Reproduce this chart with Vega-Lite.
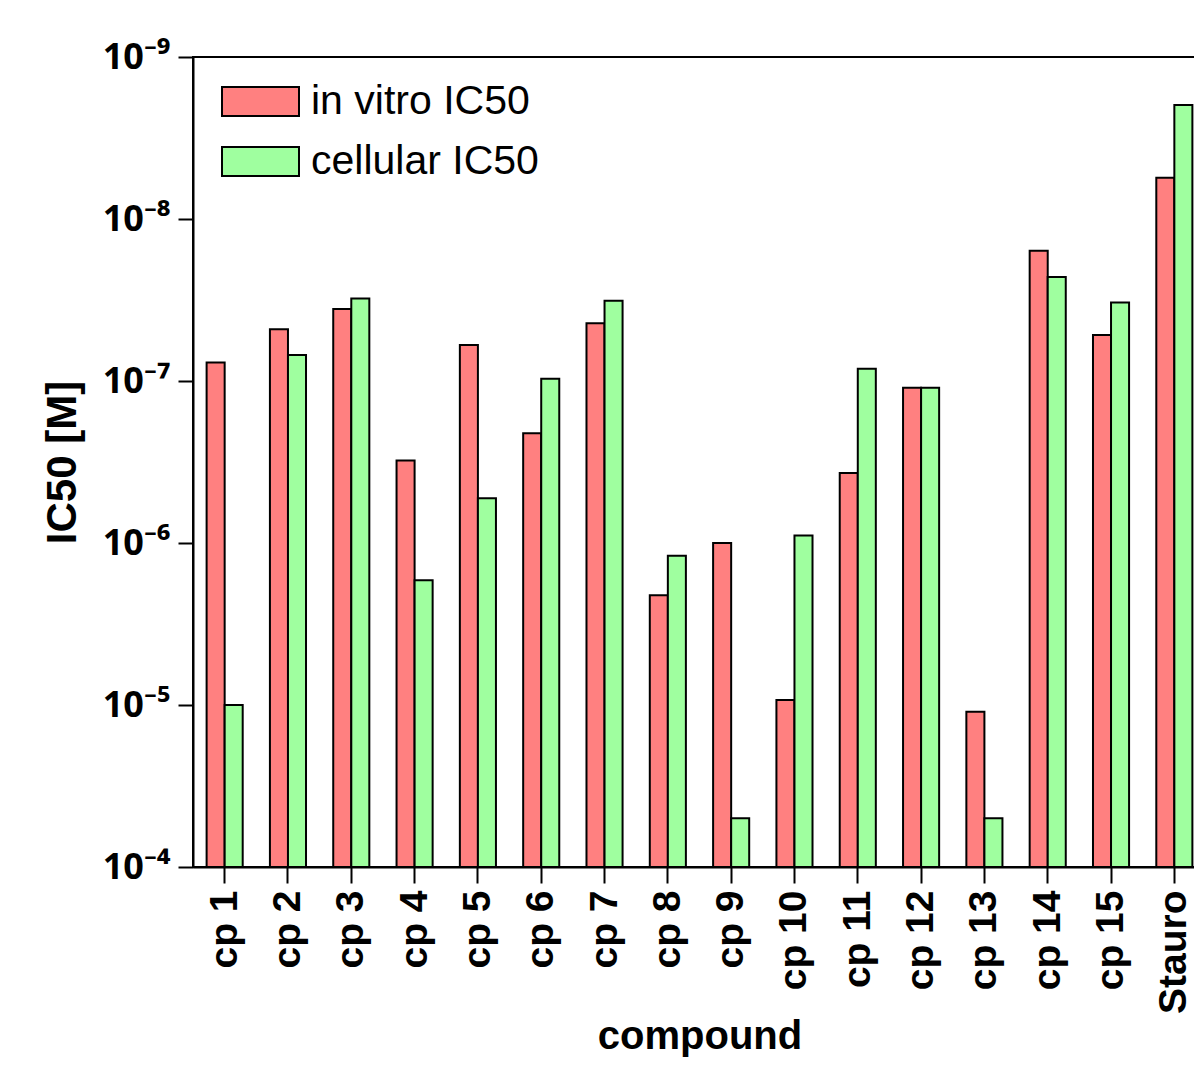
{
  "$schema": "https://vega.github.io/schema/vega-lite/v6.json",
  "width": 1002,
  "height": 810,
  "autosize": {"type": "none"},
  "padding": {"left": 193, "top": 57, "right": 0, "bottom": 198},
  "background": "white",
  "config": {
    "view": {"stroke": "black", "strokeWidth": 2},
    "font": "Liberation Sans"
  },
  "data": {
    "values": [
      {"compound": "cp 1", "series": "in vitro IC50", "ic50": 7.7e-8},
      {"compound": "cp 1", "series": "cellular IC50", "ic50": 1.0e-5},
      {"compound": "cp 2", "series": "in vitro IC50", "ic50": 4.8e-8},
      {"compound": "cp 2", "series": "cellular IC50", "ic50": 6.9e-8},
      {"compound": "cp 3", "series": "in vitro IC50", "ic50": 3.6e-8},
      {"compound": "cp 3", "series": "cellular IC50", "ic50": 3.1e-8},
      {"compound": "cp 4", "series": "in vitro IC50", "ic50": 3.1e-7},
      {"compound": "cp 4", "series": "cellular IC50", "ic50": 1.7e-6},
      {"compound": "cp 5", "series": "in vitro IC50", "ic50": 6.0e-8},
      {"compound": "cp 5", "series": "cellular IC50", "ic50": 5.3e-7},
      {"compound": "cp 6", "series": "in vitro IC50", "ic50": 2.1e-7},
      {"compound": "cp 6", "series": "cellular IC50", "ic50": 9.7e-8},
      {"compound": "cp 7", "series": "in vitro IC50", "ic50": 4.4e-8},
      {"compound": "cp 7", "series": "cellular IC50", "ic50": 3.2e-8},
      {"compound": "cp 8", "series": "in vitro IC50", "ic50": 2.1e-6},
      {"compound": "cp 8", "series": "cellular IC50", "ic50": 1.2e-6},
      {"compound": "cp 9", "series": "in vitro IC50", "ic50": 1.0e-6},
      {"compound": "cp 9", "series": "cellular IC50", "ic50": 5.0e-5},
      {"compound": "cp 10", "series": "in vitro IC50", "ic50": 9.3e-6},
      {"compound": "cp 10", "series": "cellular IC50", "ic50": 9.0e-7},
      {"compound": "cp 11", "series": "in vitro IC50", "ic50": 3.7e-7},
      {"compound": "cp 11", "series": "cellular IC50", "ic50": 8.4e-8},
      {"compound": "cp 12", "series": "in vitro IC50", "ic50": 1.1e-7},
      {"compound": "cp 12", "series": "cellular IC50", "ic50": 1.1e-7},
      {"compound": "cp 13", "series": "in vitro IC50", "ic50": 1.1e-5},
      {"compound": "cp 13", "series": "cellular IC50", "ic50": 5.0e-5},
      {"compound": "cp 14", "series": "in vitro IC50", "ic50": 1.57e-8},
      {"compound": "cp 14", "series": "cellular IC50", "ic50": 2.28e-8},
      {"compound": "cp 15", "series": "in vitro IC50", "ic50": 5.2e-8},
      {"compound": "cp 15", "series": "cellular IC50", "ic50": 3.28e-8},
      {"compound": "Stauro", "series": "in vitro IC50", "ic50": 5.57e-9},
      {"compound": "Stauro", "series": "cellular IC50", "ic50": 1.98e-9}
    ]
  },
  "mark": {"type": "bar", "stroke": "black", "strokeWidth": 2},
  "encoding": {
    "x": {
      "field": "compound",
      "type": "nominal",
      "sort": null,
      "scale": {"range": [0, 1013], "paddingInner": 0.43, "paddingOuter": 0.215},
      "axis": {
        "title": "compound",
        "titleFontSize": 40,
        "titleFontWeight": "bold",
        "titleColor": "black",
        "titlePadding": 3,
        "labelAngle": 270,
        "labelFontSize": 39,
        "labelFontWeight": "bold",
        "labelColor": "black",
        "labelPadding": 7,
        "tickSize": 16,
        "tickWidth": 2,
        "tickColor": "black",
        "domainColor": "black",
        "domainWidth": 2,
        "grid": false
      }
    },
    "xOffset": {"field": "series", "sort": ["in vitro IC50", "cellular IC50"]},
    "y": {
      "field": "ic50",
      "type": "quantitative",
      "scale": {"type": "log", "domain": [1e-9, 1e-4], "reverse": true},
      "axis": {
        "values": [1e-9, 1e-8, 1e-7, 1e-6, 1e-5, 1e-4],
        "labelExpr": "'10⁻' + ['⁰','¹','²','³','⁴','⁵','⁶','⁷','⁸','⁹'][-round(log(datum.value)/LN10)]",
        "labelFont": "Noto Sans",
        "labelFontSize": 36,
        "labelFontWeight": "bold",
        "labelColor": "black",
        "labelPadding": 8,
        "tickSize": 15,
        "tickWidth": 2,
        "tickColor": "black",
        "domainColor": "black",
        "domainWidth": 2,
        "grid": false,
        "title": "IC50 [M]",
        "titleFontSize": 42,
        "titleFontWeight": "bold",
        "titleColor": "black",
        "titlePadding": 18
      }
    },
    "y2": {"datum": 0.0001},
    "color": {
      "field": "series",
      "type": "nominal",
      "scale": {"domain": ["in vitro IC50", "cellular IC50"], "range": ["#FF8080", "#9FFF9F"]},
      "legend": {
        "orient": "none",
        "legendX": 28,
        "legendY": 5,
        "title": null,
        "padding": 0,
        "symbolType": "M-1,-0.377H1V0.377H-1Z",
        "symbolSize": 5929,
        "symbolStrokeColor": "black",
        "symbolStrokeWidth": 2,
        "symbolOpacity": 1,
        "labelFontSize": 41,
        "labelColor": "black",
        "labelOffset": 11,
        "labelLimit": 0,
        "rowPadding": -3
      }
    }
  }
}
